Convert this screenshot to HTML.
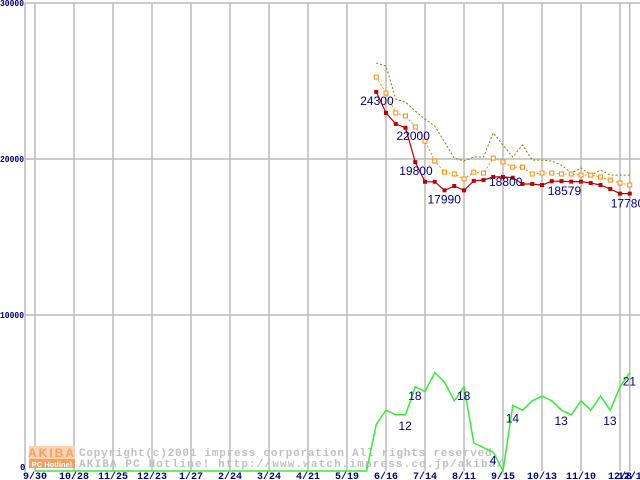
<!DOCTYPE html>
<html><head><meta charset="utf-8"><style>
body{margin:0;background:#fff;}
svg{display:block;font-family:"Liberation Mono",monospace;}
</style></head><body>
<svg id="chart" width="640" height="480" viewBox="0 0 640 480" xmlns="http://www.w3.org/2000/svg">
<g id="grid"></g>
<g id="wm">
  <rect x="29" y="446" width="46" height="13" fill="#fbd3b0"/>
  <text x="52" y="457" font-size="12" font-weight="bold" fill="#f7a060" text-anchor="middle" letter-spacing="2" font-family="Liberation Sans,sans-serif">AKIBA</text>
  <rect x="29" y="459" width="46" height="9" fill="#f7a060"/>
  <text x="52" y="467" font-size="7.5" font-weight="bold" fill="#fff" text-anchor="middle" font-family="Liberation Sans,sans-serif">PC Hotline!</text>
  <text x="79" y="456" font-size="11" font-weight="bold" fill="#c0c0c0" textLength="420" lengthAdjust="spacing">Copyright(c)2001 impress corporation All rights reserved.</text>
  <text x="79" y="467" font-size="11" font-weight="bold" fill="#c0c0c0" textLength="424" lengthAdjust="spacing">AKIBA PC Hotline!  http://www.watch.impress.co.jp/akiba/</text>
</g>
<g id="series"></g>
<g id="labels"></g>
</svg>
<script>
const xTickLabels = ["9/30","10/28","11/25","12/23","1/27","2/24","3/24","4/21","5/19","6/16","7/14","8/11","9/15","10/13","11/10","12/8","12/15"];
const xTickWeeks = [0,4,8,12,16,20,24,28,32,36,40,44,48,52,56,60,61];
const yTicks = [0,10000,20000,30000];
const startWeek = 35;
const minPrice = [24300,22950,22250,22000,19800,18540,18540,17990,18270,17990,18600,18650,18850,18850,18800,18400,18400,18330,18579,18579,18550,18550,18460,18330,18080,17780,17780];
const avgPrice = [25250,24230,22950,22760,22050,21150,19870,19160,19040,18720,19160,19100,20060,19810,19480,19480,19040,19100,19100,19040,19040,18970,18970,18850,18650,18460,18330];
const maxPrice = [26150,25960,23840,23650,23070,22560,22110,21090,20060,19870,20130,20130,21670,20900,20130,20900,19930,19930,19870,19610,19100,19420,18970,19290,18970,18970,18970];
const zeroWeeks = [0,0,0,0,0,0,0,0,0,0,0,0,0,0,0,0,0,0,0,0,0,0,0,0,0,0,0,0,0,0,0,0,0,0,0];
const shopCount = [10,13,12,12,18,17,21,19,15,18,6,5,4,0,14,13,15,16,15,13,12,15,13,16,13,18,21];
const priceLabels = [[0,"24300"],[3,"22000"],[4,"19800"],[7,"17990"],[13,"18800"],[18,"18579"],[26,"17780"]];
const countLabels = [[3,"12"],[4,"18"],[9,"18"],[12,"4"],[14,"14"],[19,"13"],[24,"13"],[26,"21"]];

const NS="http://www.w3.org/2000/svg";
const X=w=>35+w*9.75;
const Y=v=>471-v*0.0156;
const YC=c=>Y(c*300);
function mk(tag,attrs,parent){const e=document.createElementNS(NS,tag);for(const k in attrs)e.setAttribute(k,attrs[k]);parent.appendChild(e);return e;}
const grid=document.getElementById('grid'),ser=document.getElementById('series'),lab=document.getElementById('labels');

let l=mk('line',{x1:25,y1:Y(30000),x2:25,y2:472,stroke:'#bbb','stroke-width':1.5},grid);


xTickWeeks.forEach((w,i)=>{
  const g=mk('line',{x1:X(w),y1:Y(30000),x2:X(w),y2:471,stroke:'#bbb','stroke-width':1.5},grid);
  
  
  const t=mk('text',{x:X(w)+(i==16?3:0),y:479,'font-size':10,'font-weight':'bold',fill:'#000080','text-anchor':'middle'},grid);
  t.textContent=xTickLabels[i];
  
  
});
yTicks.forEach(v=>{
  if(v>0){const g=mk('line',{x1:25,y1:Y(v),x2:640,y2:Y(v),stroke:'#bbb','stroke-width':1.5},grid);
  
  }
  const s=String(v);
  const attrs={x:v==0?20:0,y:v==0?Y(v)-1:Y(v)+3,'font-size':9,'font-weight':'bold',fill:'#000080'};
  if(v>0){attrs.textLength=24;attrs.lengthAdjust='spacingAndGlyphs';}
  const t=mk('text',attrs,grid);
  t.textContent=s;
  
  
});

function pts(arr,fy,off){return arr.map((v,i)=>X(off+i).toFixed(1)+','+fy(v).toFixed(1)).join(' ');}
let p=mk('polyline',{points:pts(zeroWeeks.concat([shopCount[0]]),YC,0),fill:'none',stroke:'#33ee33','stroke-width':1.5},ser);


p=mk('polyline',{points:pts(shopCount,YC,startWeek),fill:'none',stroke:'#33ee33','stroke-width':1.5},ser);


p=mk('polyline',{points:pts(maxPrice,Y,startWeek),fill:'none',stroke:'#808000','stroke-width':1,'stroke-dasharray':'2,2'},ser);


p=mk('polyline',{points:pts(avgPrice,Y,startWeek),fill:'none',stroke:'#ff8c00','stroke-width':1,'stroke-dasharray':'2,2'},ser);


avgPrice.forEach((v,i)=>{const r=mk('rect',{x:X(startWeek+i)-2,y:Y(v)-2,width:4,height:4,fill:'#fff',stroke:'#ff8c00','stroke-width':1},ser);
  
  });
p=mk('polyline',{points:pts(minPrice,Y,startWeek),fill:'none',stroke:'#c00000','stroke-width':1.2},ser);


minPrice.forEach((v,i)=>{const r=mk('rect',{x:X(startWeek+i)-2,y:Y(v)-2,width:4,height:4,fill:'#c00000'},ser);
  
  });

priceLabels.forEach(([i,s])=>{const t=mk('text',{x:X(startWeek+i)-16+(i==0?0:i==3?7:i==4?0:i==13?2:i==18?12:i==26?-3:-1),y:Y(minPrice[i])+(i==0?13:i==3?12:i==4?13:i==7?13:i==13?9:i==18?14:14),'font-size':12,fill:'#000080','font-family':'Liberation Sans,sans-serif'},lab);
  t.textContent=s;
  
  });
countLabels.forEach(([i,s])=>{const t=mk('text',{x:X(startWeek+i)-(s.length*3.5),y:YC(shopCount[i])+(i==3?15:i==4?13:i==9?13:i==12?12:i==14?17:i==26?13:15),'font-size':12,fill:'#000080','font-family':'Liberation Sans,sans-serif'},lab);
  t.textContent=s;
  
  });
</script>
</body></html>
